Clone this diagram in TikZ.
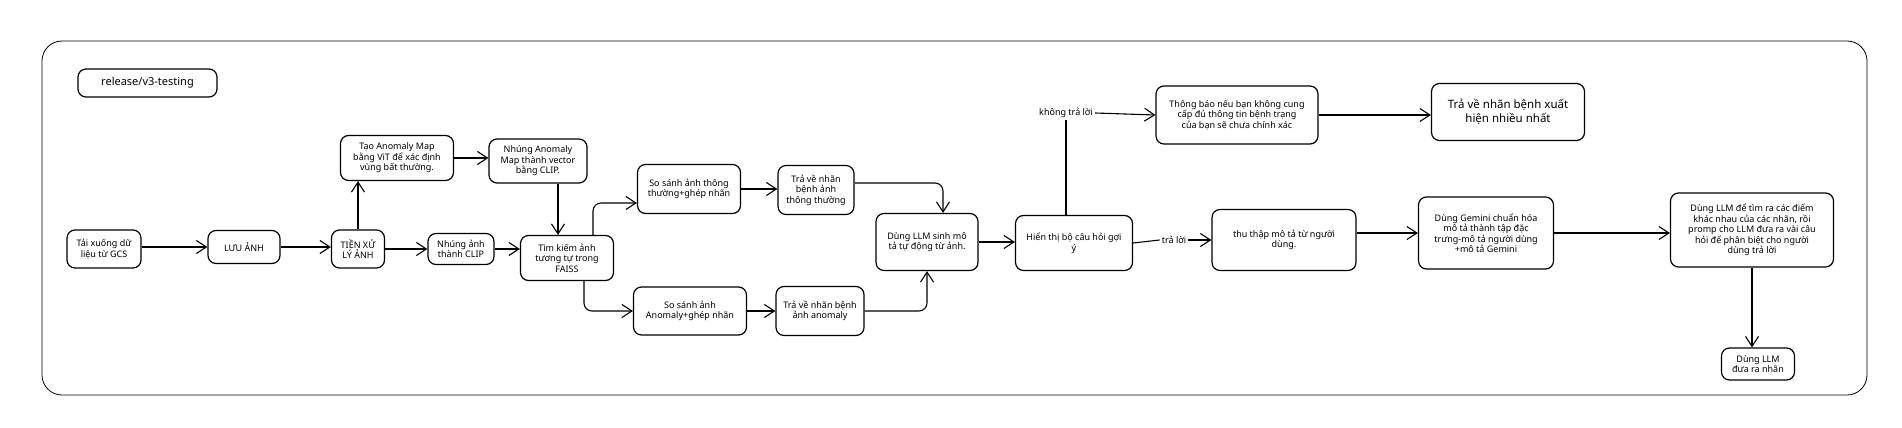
\documentclass[tikz,border=0pt]{standalone}
\usepackage{fontspec}
\setmainfont{Noto Sans}
\usetikzlibrary{arrows.meta}

\begin{document}
\begin{tikzpicture}[x=1pt, y=-1pt,
  box/.style={draw, line width=1.2pt, rounded corners=8pt, align=center, inner sep=2pt, font=\fontsize{9}{10.5}\selectfont},
  wh/.style 2 args={minimum width=#1pt, minimum height=#2pt},
  arr/.style={-{Straight Barb[length=10pt, width=13pt]}, line width=1.1pt},
  lbl/.style={inner sep=2pt, font=\fontsize{9}{10.5}\selectfont}]
\useasboundingbox[fill=white] (0,0) rectangle (1902,428);

% Frame
\draw[line width=0.8pt, rounded corners=20pt] (42,41) rectangle (1867,395);
\node[box, wh={139}{28}, font=\fontsize{11}{13}\selectfont] (tag) at (147.5,83) {release/v3-testing};

% Preprocessing
\node[box, wh={74}{38}] (taixuong) at (104,249) {Tải xuống dữ\\liệu từ GCS};
\node[box, wh={72}{33}] (luuanh) at (244,247) {LƯU ẢNH};
\node[box, wh={53}{38}] (tienxl) at (358,249) {TIỀN XỬ\\LÝ ẢNH};
\node[box, wh={113}{45}] (anomap) at (397,158) {Tạo Anomaly Map\\bằng ViT để xác định\\vùng bất thường.};
\node[box, wh={98}{44}] (nhungano) at (538,161) {Nhúng Anomaly\\Map thành vector\\bằng CLIP.};
\node[box, wh={66}{31}] (nhungclip) at (461,249) {Nhúng ảnh\\thành CLIP};
\node[box, wh={93}{45}] (faiss) at (567,258) {Tìm kiếm ảnh\\tương tự trong\\FAISS};

% Comparison
\node[box, wh={103}{49}] (ssthuong) at (689,189) {So sánh ảnh thông\\thường+ghép nhãn};
\node[box, wh={76}{49}] (trathuong) at (816,190) {Trả về nhãn\\bệnh ảnh\\thông thường};
\node[box, wh={113}{48}] (ssano) at (690,311) {So sánh ảnh\\Anomaly+ghép nhãn};
\node[box, wh={88}{49}] (traano) at (820,311) {Trả về nhãn bệnh\\ảnh anomaly};

% Description and questions
\node[box, wh={102}{57}] (llmmota) at (927,242) {Dùng LLM sinh mô\\tả tự động từ ảnh.};
\node[box, wh={117}{55}] (hienthi) at (1074,243) {Hiển thị bộ câu hỏi gợi\\ý};
\node[box, wh={144}{61}] (thuthap) at (1284,240) {thu thập mô tả từ người\\dùng.};
\node[box, wh={135}{72}] (gemini) at (1486,233) {Dùng Gemini chuẩn hóa\\mô tả thành tập đặc\\trưng-mô tả người dùng\\+mô tả Gemini};
\node[box, wh={163}{74}] (llmdiem) at (1752,230) {Dùng LLM để tìm ra các điểm\\khác nhau của các nhãn, rồi\\promp cho LLM đưa ra vài câu\\hỏi để phân biệt cho người\\dùng trả lời};
\node[box, wh={73}{32}] (llmnhan) at (1758,364) {Dùng LLM\\đưa ra nhãn};
\node[box, wh={162}{58}] (thongbao) at (1237,115) {Thông báo nếu bạn không cung\\cấp đủ thông tin bệnh trạng\\của bạn sẽ chưa chính xác};
\node[box, wh={153}{57}, font=\fontsize{11.5}{14}\selectfont] (travenhieu) at (1508,112) {Trả về nhãn bệnh xuất\\hiện nhiều nhất};

% Edge labels
\node[lbl] (lbkhong) at (1066,113) {không trả lời};
\node[lbl] (lbtraloi) at (1174,240) {trả lời};

% Arrows
\draw[arr] (taixuong.east |- luuanh.west) -- (luuanh.west);
\draw[arr] (luuanh.east) -- (luuanh.east -| tienxl.west);
\draw[arr] (tienxl.north) -- (tienxl.north |- anomap.south);
\draw[arr] (anomap.east) -- (anomap.east -| nhungano.west);
\draw[arr] (tienxl.east) -- (tienxl.east -| nhungclip.west);
\draw[arr] (nhungclip.east) -- (nhungclip.east -| faiss.west);
\draw[arr] ([xshift=20pt]nhungano.south) -- ([xshift=20pt]nhungano.south |- faiss.north);
\draw[arr, rounded corners=8pt] ([xshift=26pt]faiss.north) |- ([yshift=-14pt]ssthuong.west);
\draw[arr, rounded corners=8pt] ([xshift=17pt]faiss.south) |- (ssano.west);
\draw[arr] (ssthuong.east) -- (ssthuong.east -| trathuong.west);
\draw[arr] (ssano.east) -- (ssano.east -| traano.west);
\draw[arr, rounded corners=8pt] ([yshift=7pt]trathuong.east) -| ([xshift=16pt]llmmota.north);
\draw[arr, rounded corners=8pt] (traano.east) -| (llmmota.south);
\draw[arr] (llmmota.east) -- (llmmota.east -| hienthi.west);
\draw[line width=1.1pt] (hienthi.north -| lbkhong.south) -- (lbkhong.south);
\draw[arr] (lbkhong.east) -- (thongbao.west);
\draw[line width=1.1pt] (hienthi.east) -- (lbtraloi.west);
\draw[arr] (lbtraloi.east) -- (thuthap.west);
\draw[arr] (thongbao.east) -- (thongbao.east -| travenhieu.west);
\draw[arr] (gemini.west -| thuthap.east) -- (gemini.west);
\draw[arr] (gemini.east) -- (gemini.east -| llmdiem.west);
\draw[arr] (llmdiem.south) -- (llmdiem.south |- llmnhan.north);
\end{tikzpicture}
\end{document}
